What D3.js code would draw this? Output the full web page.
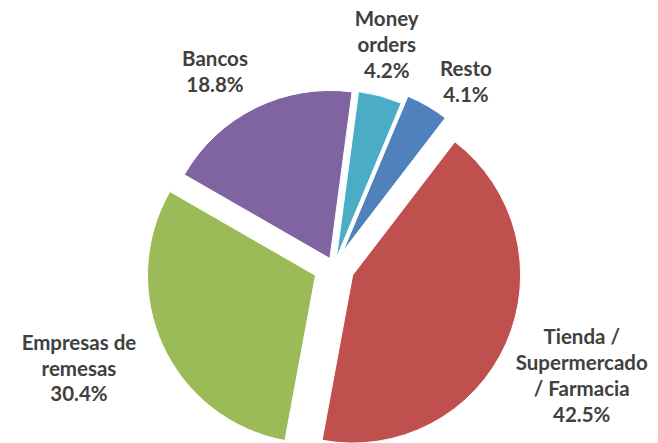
<!DOCTYPE html>
<html>
<head>
<meta charset="utf-8">
<script src="https://cdn.jsdelivr.net/npm/d3@7"></script>
<style>
  html, body { margin: 0; padding: 0; background: #ffffff; }
  svg { display: block; }
</style>
</head>
<body>
<svg id="chart" width="658" height="443"></svg>
<script>
// ---- data ----
const categories = ["Money orders", "Resto", "Tienda / Supermercado / Farmacia", "Empresas de remesas", "Bancos"];
const values = [4.2, 4.1, 42.5, 30.4, 18.8];
const labelLines = [
  ["Money", "orders"],
  ["Resto"],
  ["Tienda /", "Supermercado", "/ Farmacia"],
  ["Empresas de", "remesas"],
  ["Bancos"]
];
const percentLabels = ["4.2%", "4.1%", "42.5%", "30.4%", "18.8%"];

// ---- styling / layout ----
const colors = ["#4BACC6", "#4F81BD", "#C0504D", "#9BBB59", "#8064A2"];
const explodeOffsets = [9, 18, 20.4, 20.4, 9.3];
// label placement: angular nudge from slice mid-angle (deg) and distance from pie centre
const labelNudgeDeg = [-1.8, 5.4, -0.3, 3.1, -5.1];
const labelRadius = [228.3, 227.2, 270.5, 274.5, 228.8];
const W = 658, H = 443;
const cx = 334, cy = 266.8, R = 168;
const startDeg = 7.6;
const fontSize = 20.5, lineH = 25.8, capH = 0.72 * 20.5;

const svg = d3.select("#chart");
svg.append("rect").attr("width", W).attr("height", H).attr("fill", "#fff");

const pie = d3.pie().sort(null)
  .startAngle(startDeg * Math.PI / 180)
  .endAngle(startDeg * Math.PI / 180 + 2 * Math.PI);
const arcs = pie(values);
const arc = d3.arc().innerRadius(0).outerRadius(R);

const g = svg.append("g").attr("transform", `translate(${cx},${cy})`);

function dirOf(a) { return [Math.sin(a), -Math.cos(a)]; }

arcs.forEach((d, i) => {
  const mid = (d.startAngle + d.endAngle) / 2;
  const [ux, uy] = dirOf(mid);
  g.append("path")
    .attr("d", arc(d))
    .attr("transform", `translate(${ux * explodeOffsets[i]},${uy * explodeOffsets[i]})`)
    .attr("fill", colors[i])
    .attr("stroke", "#fff")
    .attr("stroke-width", 1);
});

// labels
arcs.forEach((d, i) => {
  const mid = (d.startAngle + d.endAngle) / 2 + labelNudgeDeg[i] * Math.PI / 180;
  const [ux, uy] = dirOf(mid);
  const bx = ux * labelRadius[i], by = uy * labelRadius[i];
  const lines = labelLines[i].concat([percentLabels[i]]);
  const blockH = (lines.length - 1) * lineH + capH;
  const y0 = by - blockH / 2 + capH;
  const t = g.append("text")
    .attr("font-family", "Lato, 'Open Sans', sans-serif")
    .attr("font-weight", "bold")
    .attr("font-size", fontSize)
    .attr("fill", "#404040")
    .attr("text-anchor", "middle");
  lines.forEach((s, k) => {
    t.append("tspan").attr("x", bx).attr("y", y0 + k * lineH).text(s);
  });
});
</script>
</body>
</html>
